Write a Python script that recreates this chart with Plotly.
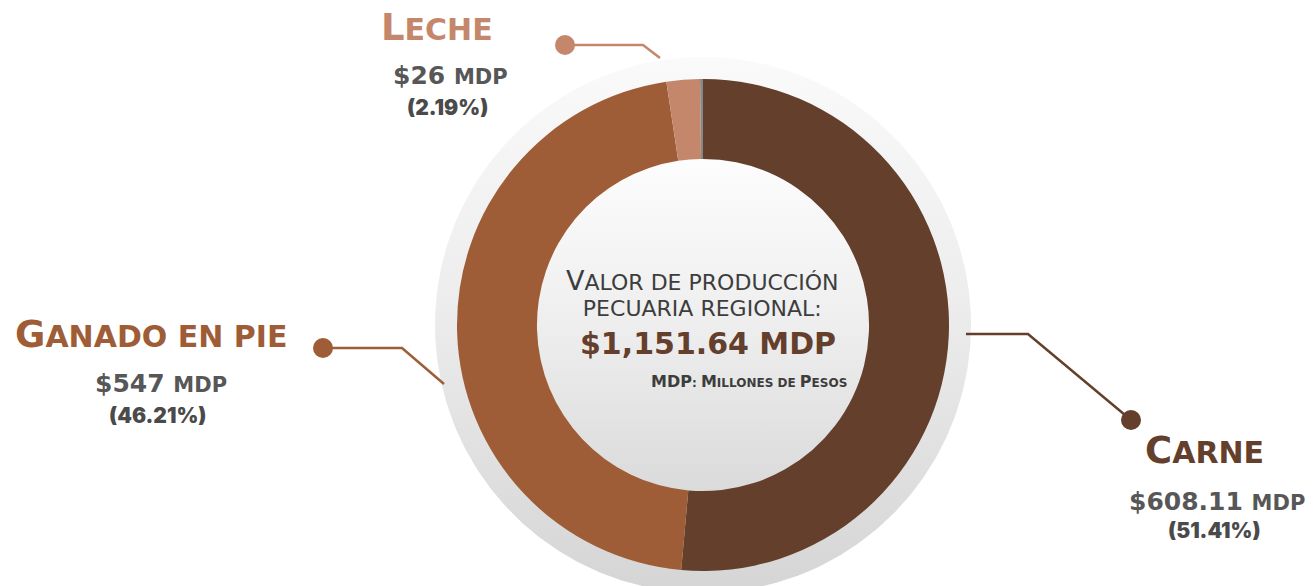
import numpy as np
import plotly.graph_objects as go

# ---------------- data ----------------
categorias = ["Carne", "Ganado en pie", "Leche", "Otros"]
valores_mdp = [608.11, 547, 26, None]
porcentajes = [51.41, 46.21, 2.19, 0.19]
total_mdp = 1151.64
colores = ["#633F2C", "#9E5D36", "#C5876B", "#878787"]

W, H = 1314, 586
CX, CY = 703, 325          # pie centre in pixels
R_OUT = 246
HOLE = 0.675
R_SHADOW = 268

FONT = "DejaVu Sans"
HEAVY = "Inter"
GRAY = "#575757"


def smallcaps(text, big, small):
    """Emulate small caps: capitals at big size, lowercase as small capitals."""
    out = []
    for ch in text:
        size = big if ch.isupper() else small
        out.append(f"<span style='font-size:{size}px'>{ch.upper()}</span>")
    return "".join(out)


fig = go.Figure()

# background discs (decoration) with gradients, in pixel coordinates
t = np.linspace(0, 2 * np.pi, 361)
fig.add_trace(go.Scatter(
    x=CX + R_SHADOW * np.cos(t), y=CY + R_SHADOW * np.sin(t),
    fill="toself", mode="lines", line=dict(width=0, color="rgba(0,0,0,0)"),
    fillgradient=dict(type="vertical",
                      colorscale=[[0, "#d5d5d5"], [0.55, "#ededed"], [1, "#fafafa"]]),
    hoverinfo="skip", showlegend=False))
r_in = R_OUT * HOLE + 4
fig.add_trace(go.Scatter(
    x=CX + r_in * np.cos(t), y=CY + r_in * np.sin(t),
    fill="toself", mode="lines", line=dict(width=0, color="rgba(0,0,0,0)"),
    fillgradient=dict(type="vertical",
                      colorscale=[[0, "#dadada"], [0.5, "#eeeeee"], [1, "#fdfdfd"]]),
    hoverinfo="skip", showlegend=False))

# connector lines with dots
conectores = [
    ([565, 643, 660], [45, 45, 58], colores[2]),
    ([323, 402, 444], [348, 348, 384], colores[1]),
    ([1131, 1028, 966], [420, 334, 334], colores[0]),
]
for xs, ys, c in conectores:
    fig.add_trace(go.Scatter(x=xs, y=ys, mode="lines", line=dict(color=c, width=2.5),
                             hoverinfo="skip", showlegend=False))
    fig.add_trace(go.Scatter(x=[xs[0]], y=[ys[0]], mode="markers",
                             marker=dict(color=c, size=20, line=dict(width=0)),
                             hoverinfo="skip", showlegend=False))

# donut
fig.add_trace(go.Pie(
    labels=categorias, values=porcentajes, hole=HOLE, sort=False,
    direction="clockwise", rotation=0,
    marker=dict(colors=colores, line=dict(width=0)),
    textinfo="none", hoverinfo="label+percent", showlegend=False,
    domain=dict(x=[(CX - R_OUT) / W, (CX + R_OUT) / W],
                y=[(H - CY - R_OUT) / H, (H - CY + R_OUT) / H]),
))

annots = []


def add(text, x, y, size, color, weight="normal", family=FONT):
    annots.append(dict(text=text, x=x, y=y, xref="x", yref="y", showarrow=False,
                       xanchor="center", yanchor="middle",
                       font=dict(size=size, color=color, family=family, weight=weight)))


# label blocks: (category index, title pos, value pos, pct pos)
bloques = [
    (2, (437, 27), (450, 75), (447, 107)),
    (1, (151, 334), (161, 383), (157, 415)),
    (0, (1204, 450), (1217, 501), (1214, 530)),
]
for i, tp, vp, pp in bloques:
    add(smallcaps(categorias[i], 37, 30), tp[0], tp[1], 30, colores[i], weight="bold")
    v = valores_mdp[i]
    vs = f"{v:,.2f}" if v != int(v) else f"{int(v):,}"
    add(f"${vs} <span style='font-size:21px'>MDP</span>", vp[0], vp[1], 25, GRAY,
        weight="bold")
    add(f"({porcentajes[i]:.2f}%)", pp[0], pp[1], 21, "#4a4a4a", weight=900, family=HEAVY)

# centre text
add(smallcaps("Valor de producción", 27, 22) + "<br>" + smallcaps("pecuaria regional:", 27, 22),
    702, 293, 20, "#3d3d3d")
add(f"${total_mdp:,.2f} MDP", 708, 343, 30, colores[0], weight="bold")
add(smallcaps("MDP: Millones de Pesos", 16, 12), 749, 381, 12, "#3d3d3d", weight="bold")

fig.update_layout(
    width=W, height=H, margin=dict(l=0, r=0, t=0, b=0),
    paper_bgcolor="white", plot_bgcolor="white",
    xaxis=dict(range=[0, W], visible=False, fixedrange=True),
    yaxis=dict(range=[H, 0], visible=False, fixedrange=True),
    annotations=annots, showlegend=False,
)

fig.write_html("out.html", config={"displayModeBar": False},
               post_script="document.body.style.margin='0';")
